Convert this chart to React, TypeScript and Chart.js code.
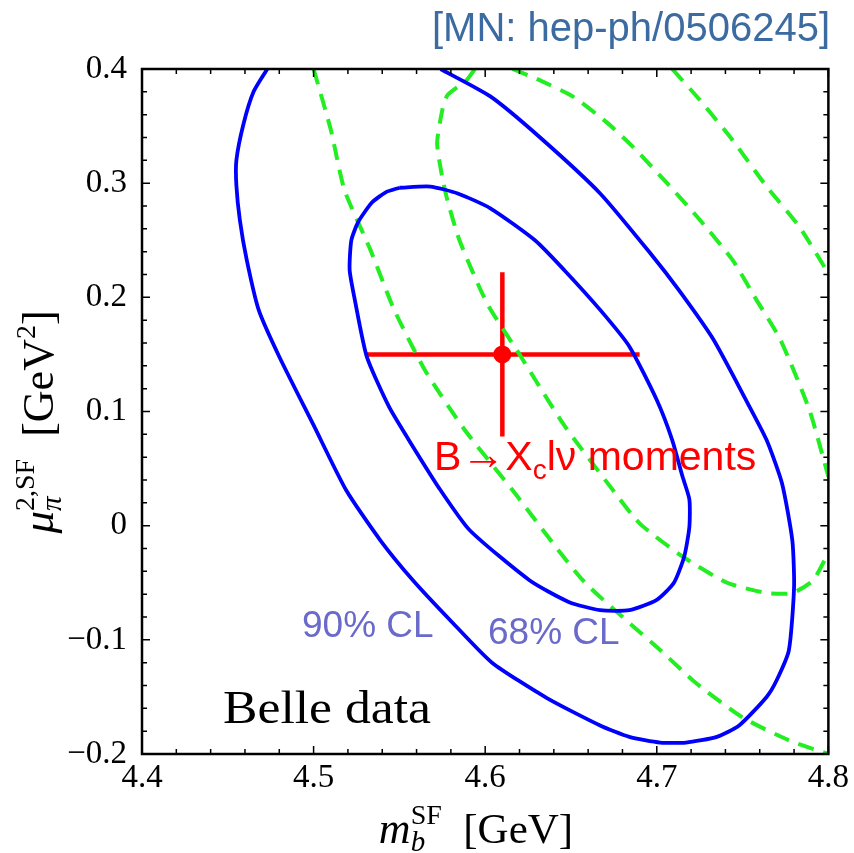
import React, { useEffect, useRef } from "react";
import { Chart, registerables } from "chart.js";

Chart.register(...registerables);

// ---------- data ----------
const xMin = 4.4;
const xMax = 4.8;
const yMin = -0.2;
const yMax = 0.4;
const xTicks = [4.4, 4.5, 4.6, 4.7, 4.8];
const yTicks = [-0.2, -0.1, 0, 0.1, 0.2, 0.3, 0.4];
const minorStep = 0.02;

// 90% CL contour (blue, leaves plot at top)
const contour90: [number, number][] = [
  [4.473, 0.4], [4.465, 0.38], [4.459, 0.351], [4.455, 0.32], [4.455, 0.298],
  [4.457, 0.268], [4.461, 0.233], [4.468, 0.189], [4.48, 0.148], [4.5, 0.088],
  [4.519, 0.031], [4.539, -0.013], [4.558, -0.048], [4.581, -0.085], [4.604, -0.12],
  [4.636, -0.151], [4.667, -0.175], [4.684, -0.185], [4.702, -0.19], [4.717, -0.19],
  [4.735, -0.185], [4.748, -0.175], [4.764, -0.15], [4.77, -0.135], [4.777, -0.109],
  [4.78, -0.054], [4.779, -0.013], [4.773, 0.037], [4.764, 0.075], [4.752, 0.11],
  [4.733, 0.163], [4.713, 0.206], [4.696, 0.239], [4.667, 0.291], [4.632, 0.34],
  [4.603, 0.376], [4.574, 0.4],
];

// 68% CL contour (blue, closed)
const contour68: [number, number][] = [
  [4.55, 0.296], [4.568, 0.297], [4.584, 0.291], [4.603, 0.278], [4.629, 0.25],
  [4.646, 0.224], [4.667, 0.189], [4.684, 0.157], [4.7, 0.11], [4.709, 0.075],
  [4.715, 0.043], [4.719, 0.023], [4.719, -0.001], [4.716, -0.027], [4.71, -0.05],
  [4.7, -0.065], [4.684, -0.074], [4.667, -0.074], [4.649, -0.067], [4.626, -0.048],
  [4.591, -0.004], [4.574, 0.031], [4.558, 0.069], [4.544, 0.104], [4.531, 0.148],
  [4.524, 0.198], [4.521, 0.224], [4.522, 0.25], [4.526, 0.266], [4.534, 0.283],
  [4.542, 0.292], [4.55, 0.296],
];

// green dashed contours (pieces inside the frame)
const greenA: [number, number][] = [
  [4.5, 0.4], [4.51, 0.347], [4.518, 0.294], [4.533, 0.242], [4.547, 0.189],
  [4.565, 0.136], [4.588, 0.084], [4.616, 0.031], [4.657, -0.048], [4.702, -0.109],
  [4.723, -0.138], [4.75, -0.168], [4.777, -0.188], [4.8, -0.2],
];
const greenB: [number, number][] = [
  [4.594, 0.4], [4.589, 0.39], [4.578, 0.377], [4.575, 0.364], [4.572, 0.335],
  [4.575, 0.305], [4.578, 0.285], [4.585, 0.25], [4.601, 0.195], [4.62, 0.15],
  [4.646, 0.088], [4.673, 0.034], [4.69, 0.002], [4.715, -0.027], [4.741, -0.05],
  [4.764, -0.059], [4.779, -0.059], [4.791, -0.048], [4.8, -0.024],
];
const greenC: [number, number][] = [
  [4.616, 0.4], [4.632, 0.39], [4.651, 0.376], [4.671, 0.353], [4.686, 0.332],
  [4.706, 0.3], [4.725, 0.268], [4.744, 0.233], [4.758, 0.198], [4.772, 0.163],
  [4.789, 0.101], [4.8, 0.043],
];
const greenD: [number, number][] = [
  [4.709, 0.4], [4.725, 0.373], [4.744, 0.338], [4.764, 0.297], [4.783, 0.262],
  [4.8, 0.221],
];

// B -> Xc l nu moments result
const momentsCenter: [number, number] = [4.61, 0.15];
const momentsErrX = 0.08;
const momentsErrY = 0.072;

// ---------- styling ----------
const SERIF = '"Liberation Serif", "Times New Roman", serif';
const SANS = '"Liberation Sans", Arial, sans-serif';
const BLUE = "#0000ff";
const GREEN = "#22ee22";
const RED = "#ff0000";

const pts = (a: [number, number][]) => a.map(([x, y]) => ({ x, y }));

type Part = { t: string; font: string; dy?: number };
type Seg = Part | { stack: Part[] };

function segWidth(ctx: CanvasRenderingContext2D, s: Seg): number {
  if ("stack" in s) {
    let m = 0;
    for (const p of s.stack) {
      ctx.font = p.font;
      m = Math.max(m, ctx.measureText(p.t).width);
    }
    return m;
  }
  ctx.font = s.font;
  return ctx.measureText(s.t).width;
}

function drawRich(ctx: CanvasRenderingContext2D, segs: Seg[], x: number, y: number, align: "left" | "center") {
  const total = segs.reduce((a, s) => a + segWidth(ctx, s), 0);
  let cx = align === "center" ? x - total / 2 : x;
  ctx.textAlign = "left";
  ctx.textBaseline = "alphabetic";
  for (const s of segs) {
    const w = segWidth(ctx, s);
    const parts = "stack" in s ? s.stack : [s];
    for (const p of parts) {
      ctx.font = p.font;
      ctx.fillText(p.t, cx, y + (p.dy || 0));
    }
    cx += w;
  }
}

const decorPlugin = {
  id: "decor",
  afterDraw(chart: any) {
    const ctx: CanvasRenderingContext2D = chart.ctx;
    const xs = chart.scales.x;
    const ys = chart.scales.y;
    const a = chart.chartArea;
    ctx.save();

    // frame
    ctx.strokeStyle = "#000";
    ctx.lineWidth = 2.5;
    ctx.strokeRect(a.left, a.top, a.right - a.left, a.bottom - a.top);

    // inward ticks on all four sides
    ctx.lineWidth = 1.5;
    const nX = Math.round((xMax - xMin) / minorStep);
    for (let i = 0; i <= nX; i++) {
      const v = xMin + i * minorStep;
      const px = xs.getPixelForValue(v);
      const len = i % 5 === 0 ? 8 : 5;
      ctx.beginPath();
      ctx.moveTo(px, a.bottom);
      ctx.lineTo(px, a.bottom - len);
      ctx.moveTo(px, a.top);
      ctx.lineTo(px, a.top + len);
      ctx.stroke();
    }
    const nY = Math.round((yMax - yMin) / minorStep);
    for (let i = 0; i <= nY; i++) {
      const v = yMin + i * minorStep;
      const py = ys.getPixelForValue(v);
      const len = i % 5 === 0 ? 8 : 5;
      ctx.beginPath();
      ctx.moveTo(a.left, py);
      ctx.lineTo(a.left + len, py);
      ctx.moveTo(a.right, py);
      ctx.lineTo(a.right - len, py);
      ctx.stroke();
    }

    // reference title
    ctx.fillStyle = "#3b6ba0";
    ctx.font = `40px ${SANS}`;
    ctx.textAlign = "right";
    ctx.textBaseline = "alphabetic";
    ctx.fillText("[MN: hep-ph/0506245]", 830, 41);

    // moments label
    ctx.fillStyle = RED;
    drawRich(
      ctx,
      [
        { t: "B", font: `41px ${SANS}` },
        { t: "→", font: `44px ${SERIF}`, dy: -1 },
        { t: "X", font: `41px ${SANS}` },
        { t: "c", font: `28px ${SANS}`, dy: 9 },
        { t: "lν moments", font: `41px ${SANS}` },
      ],
      434,
      470,
      "left"
    );

    // CL labels
    ctx.fillStyle = "#6a6acb";
    ctx.font = `37px ${SANS}`;
    ctx.textAlign = "left";
    ctx.fillText("90% CL", 302, 637);
    ctx.fillText("68% CL", 488, 644);

    // Belle data
    ctx.fillStyle = "#000";
    ctx.font = `47px ${SERIF}`;
    const bw = ctx.measureText("Belle data").width;
    ctx.save();
    ctx.translate(223, 723);
    ctx.scale(208 / bw, 1);
    ctx.fillText("Belle data", 0, 0);
    ctx.restore();

    // x axis title
    ctx.fillStyle = "#000";
    drawRich(
      ctx,
      [
        { t: "m", font: `italic 44px ${SERIF}` },
        {
          stack: [
            { t: "b", font: `italic 29px ${SERIF}`, dy: 8 },
            { t: "SF", font: `28px ${SERIF}`, dy: -19 },
          ],
        },
        { t: "  [GeV]", font: `43px ${SERIF}` },
      ],
      476,
      843,
      "center"
    );

    // y axis title
    ctx.save();
    ctx.translate(53, 422);
    ctx.rotate(-Math.PI / 2);
    drawRich(
      ctx,
      [
        { t: "μ", font: `italic 45px ${SERIF}` },
        {
          stack: [
            { t: "π", font: `italic 29px ${SERIF}`, dy: 8 },
            { t: "2,SF", font: `28px ${SERIF}`, dy: -19 },
          ],
        },
        { t: "  [GeV", font: `44px ${SERIF}` },
        { t: "2", font: `28px ${SERIF}`, dy: -18 },
        { t: "]", font: `44px ${SERIF}` },
      ],
      0,
      0,
      "center"
    );
    ctx.restore();

    ctx.restore();
  },
};

const fmtNum = (v: number) => {
  const r = Math.round(v * 10) / 10;
  if (r === 0) return "0";
  return r < 0 ? "−" + Math.abs(r).toFixed(1) : r.toFixed(1);
};

export default function App() {
  const ref = useRef<HTMLCanvasElement | null>(null);

  useEffect(() => {
    if (!ref.current) return;
    const [cx, cy] = momentsCenter;
    const lineDs = (data: [number, number][], color: string, dashed: boolean) => ({
      data: pts(data),
      showLine: true,
      borderColor: color,
      borderWidth: dashed ? 4 : 3.8,
      borderDash: dashed ? [16, 10] : [],
      pointRadius: 0,
      tension: 0.2,
      fill: false,
      clip: 0,
    });
    const chart = new Chart(ref.current, {
      type: "scatter",
      data: {
        datasets: [
          lineDs(contour90, BLUE, false),
          lineDs(contour68, BLUE, false),
          lineDs(greenA, GREEN, true),
          lineDs(greenB, GREEN, true),
          lineDs(greenC, GREEN, true),
          lineDs(greenD, GREEN, true),
          {
            data: [{ x: cx - momentsErrX, y: cy }, { x: cx + momentsErrX, y: cy }],
            showLine: true,
            borderColor: RED,
            borderWidth: 4.5,
            pointRadius: 0,
            clip: 0,
          },
          {
            data: [{ x: cx, y: cy - momentsErrY }, { x: cx, y: cy + momentsErrY }],
            showLine: true,
            borderColor: RED,
            borderWidth: 4.5,
            pointRadius: 0,
            clip: 0,
          },
          {
            data: [{ x: cx, y: cy }],
            showLine: false,
            pointRadius: 9,
            pointBackgroundColor: RED,
            pointBorderColor: RED,
            pointBorderWidth: 0,
          },
        ] as any,
      },
      options: {
        animation: false,
        responsive: false,
        events: [],
        layout: { padding: { left: 0, top: 69, right: 25, bottom: 0 } },
        plugins: { legend: { display: false }, tooltip: { enabled: false } },
        scales: {
          x: {
            type: "linear",
            min: xMin,
            max: xMax,
            afterFit: (s: any) => {
              s.height = 99;
            },
            afterBuildTicks: (s: any) => {
              s.ticks = xTicks.map((v) => ({ value: v }));
            },
            ticks: {
              autoSkip: false,
              maxRotation: 0,
              padding: 5,
              color: "#000",
              font: { family: SERIF, size: 33 },
              callback: (v: any) => Number(v).toFixed(1),
            },
            grid: { display: false, drawTicks: false },
            border: { display: false },
          },
          y: {
            type: "linear",
            min: yMin,
            max: yMax,
            afterFit: (s: any) => {
              s.width = 142;
            },
            afterBuildTicks: (s: any) => {
              s.ticks = yTicks.map((v) => ({ value: v }));
            },
            ticks: {
              autoSkip: false,
              padding: 15,
              color: "#000",
              font: { family: SERIF, size: 33 },
              callback: (v: any) => fmtNum(Number(v)),
            },
            grid: { display: false, drawTicks: false },
            border: { display: false },
          },
        },
      } as any,
      plugins: [decorPlugin],
    });
    return () => chart.destroy();
  }, []);

  return (
    <div style={{ position: "absolute", left: 0, top: 0, width: 854, height: 853, background: "#fff" }}>
      <canvas ref={ref} width={854} height={853} style={{ display: "block" }} />
    </div>
  );
}
